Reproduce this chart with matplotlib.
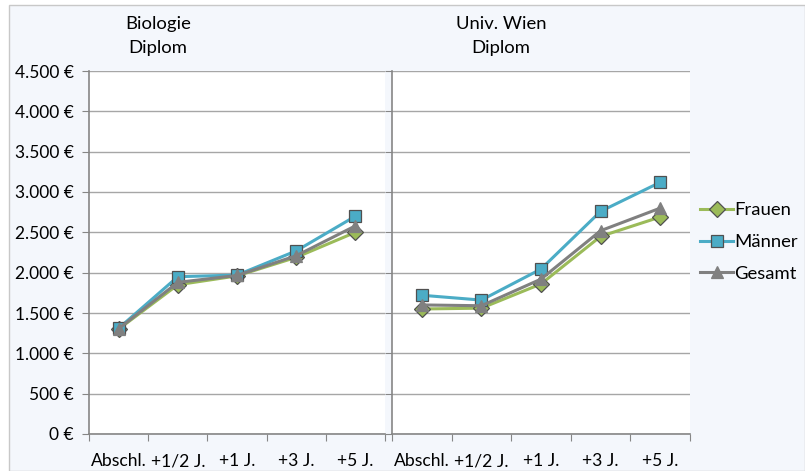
import matplotlib.pyplot as plt
from matplotlib.patches import Rectangle
from matplotlib.ticker import FuncFormatter, FixedLocator

plt.rcParams['font.family'] = ['Lato', 'DejaVu Sans']

# categories and values (EUR)
categories = ['Abschl.', '+1/2 J.', '+1 J.', '+3 J.', '+5 J.']
series_names = ['Frauen', 'Männer', 'Gesamt']

bio_frauen = [1300, 1850, 1960, 2190, 2500]
bio_maenner = [1310, 1950, 1970, 2270, 2700]
bio_gesamt = [1305, 1880, 1965, 2210, 2580]

wien_frauen = [1550, 1560, 1860, 2450, 2690]
wien_maenner = [1720, 1660, 2045, 2760, 3120]
wien_gesamt = [1600, 1590, 1920, 2520, 2800]

panel_titles = ['Biologie\nDiplom', 'Univ. Wien\nDiplom']

colors = ['#9BBB59', '#4BACC6', '#808080']
markers = ['D', 's', '^']
msizes = [8, 9, 8]

W, H = 805, 471
fig = plt.figure(figsize=(W / 100, H / 100), dpi=100, facecolor='white')
fig.patches.append(Rectangle((9 / W, 0), 1 - 9 / W, 1 - 5 / H, transform=fig.transFigure,
                             facecolor='#F4F7FC', edgecolor='#C8C8C8', lw=1, zorder=-5))

axes_px = [(89, 385), (392, 690)]
title_x = [158, 501]
data = [(bio_frauen, bio_maenner, bio_gesamt), (wien_frauen, wien_maenner, wien_gesamt)]

eur = FuncFormatter(lambda v, p: f"{int(v):,} €".replace(',', '.'))
x = list(range(len(categories)))
handles = []
for i, (x0, x1) in enumerate(axes_px):
    ax = fig.add_axes([x0 / W, 1 - 434 / H, (x1 - x0) / W, (434 - 71) / H])
    ax.set_facecolor('white')
    for vals, c, m, ms, name in zip(data[i], colors, markers, msizes, series_names):
        h, = ax.plot(x, vals, color=c, lw=2.2, marker=m, markersize=ms,
                     markerfacecolor=c if m != '^' else '#808080',
                     markeredgecolor='#505050' if m != '^' else '#808080',
                     markeredgewidth=0.9, label=name, zorder=3)
        if i == 0:
            handles.append(h)
    ax.set_xlim(-0.5, 4.5)
    ax.set_ylim(0, 4500)
    ax.set_yticks(range(0, 4501, 500))
    ax.yaxis.grid(True, color='#A6A6A6', lw=1)
    ax.set_axisbelow(True)
    ax.xaxis.set_major_locator(FixedLocator([-0.5, 0.5, 1.5, 2.5, 3.5, 4.5]))
    ax.xaxis.set_major_formatter(FuncFormatter(lambda v, p: ''))
    ax.set_xticks(x, minor=True)
    ax.set_xticklabels(categories, minor=True, fontsize=12.6)
    ax.tick_params(axis='x', which='minor', length=0, pad=14)
    ax.tick_params(axis='x', which='major', length=5, color='#868686', direction='out')
    ax.tick_params(axis='y', length=5, color='#868686', direction='out', labelsize=12.5, pad=6)
    if i == 0:
        ax.yaxis.set_major_formatter(eur)
    else:
        ax.set_yticklabels([])
    for s in ['top', 'right']:
        ax.spines[s].set_visible(False)
    for s in ['left', 'bottom']:
        ax.spines[s].set_color('#868686')
        ax.spines[s].set_linewidth(1.2)
    fig.text(title_x[i] / W, 1 - 36 / H, panel_titles[i], ha='center', va='center',
             fontsize=13.3, linespacing=1.6)

fig.legend(handles, series_names, loc='upper left', bbox_to_anchor=(693 / W, 1 - 195 / H),
           frameon=False, fontsize=13.3, handlelength=1.75, handletextpad=0.1,
           labelspacing=0.85, borderaxespad=0)

fig.savefig('out.png', dpi=100, facecolor='white')
